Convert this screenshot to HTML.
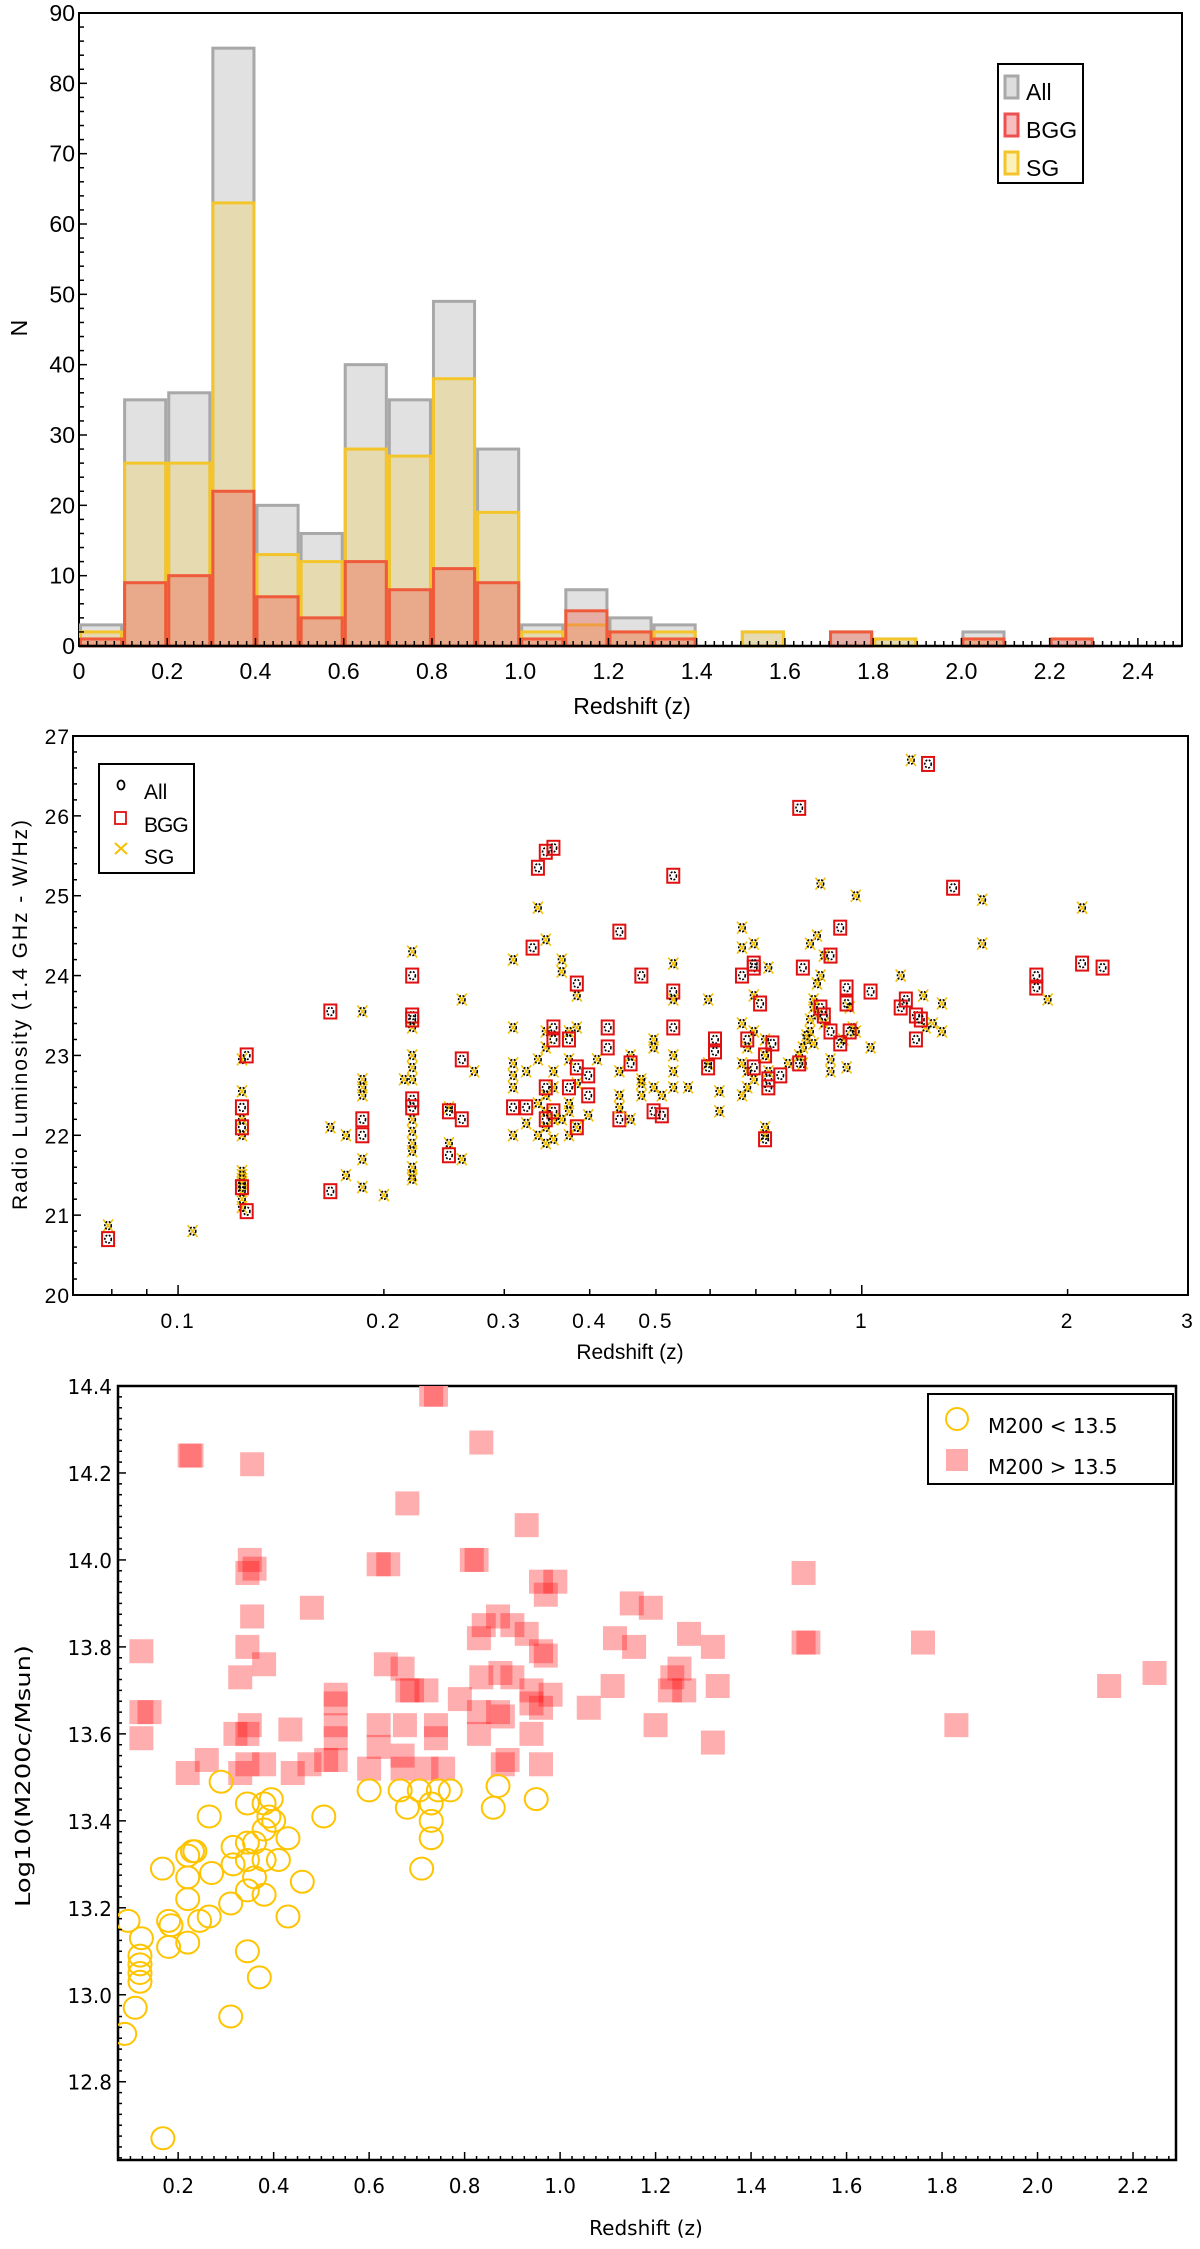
<!DOCTYPE html>
<html><head><meta charset="utf-8"><style>
html,body{margin:0;padding:0;background:#fff;}
svg{display:block;}
.t1{font-family:"Liberation Sans Narrow","Liberation Sans",sans-serif;font-size:23px;fill:#000;}
.t2{font-family:"Liberation Sans",sans-serif;font-size:21px;fill:#000;}
.t3{font-family:"DejaVu Sans",sans-serif;font-size:20px;fill:#000;}
</style></head><body>
<svg id="root" width="1200" height="2249" viewBox="0 0 1200 2249" xmlns="http://www.w3.org/2000/svg">
<g id="c1"></g>
<g id="c2"></g>
<g id="c3"></g>
</svg>
<script>
// ---------- Chart 1 data ----------
const binStarts = [0.0,0.1,0.2,0.3,0.4,0.5,0.6,0.7,0.8,0.9,1.0,1.1,1.2,1.3,1.4,1.5,1.6,1.7,1.8,1.9,2.0,2.1,2.2];
const countAll  = [3,35,36,85,20,16,40,35,49,28,3,8,4,3,0,2,0,2,1,0,2,0,1];
const countSG   = [2,26,26,63,13,12,28,27,38,19,2,3,2,2,0,2,0,0,1,0,1,0,0];
const countBGG  = [1,9,10,22,7,4,12,8,11,9,1,5,2,1,0,0,0,2,0,0,1,0,1];
const hxTicks = ["0","0.2","0.4","0.6","0.8","1.0","1.2","1.4","1.6","1.8","2.0","2.2","2.4"];
const hyTicks = [0,10,20,30,40,50,60,70,80,90];

// ---------- Chart 2 data ----------
const scZ = [0.079,0.079,0.105,
0.124,0.124,0.124,0.124,0.124,0.124,0.124,0.124,0.124,0.124,0.124,0.126,0.124,0.124,0.124,0.126,
0.167,0.167,0.167,0.176,0.176,0.186,0.186,0.186,0.186,0.186,0.186,0.186,0.186,0.2,0.214,
0.22,0.22,0.22,0.22,0.22,0.22,0.22,0.22,0.22,0.22,0.22,0.22,0.22,0.22,0.22,0.22,0.22,
0.249,0.249,0.249,0.249,0.26,0.26,0.26,0.26,0.271,
0.309,0.309,0.309,0.309,0.309,0.309,0.323,0.323,0.309,0.323,0.33,
0.336,0.345,0.345,0.345,0.336,0.354,0.345,0.336,0.345,0.354,0.336,0.345,0.354,0.345,0.354,0.336,0.345,0.354,0.354,0.354,0.345,0.354,0.345,
0.364,0.364,0.383,0.383,0.373,0.373,0.383,0.373,0.364,0.383,0.373,0.398,0.373,0.383,0.373,0.383,0.373,0.398,0.398,0.383,0.41,
0.425,0.425,0.442,0.442,0.442,0.442,0.442,
0.459,0.459,0.476,0.476,0.496,0.496,0.476,0.496,0.459,0.476,0.496,
0.51,0.53,0.53,0.53,0.53,0.53,0.53,0.53,0.51,0.53,0.557,
0.596,0.619,0.619,0.596,0.596,0.61,0.61,
0.668,0.668,0.695,0.695,0.668,0.695,0.68,0.668,0.68,0.695,0.668,0.68,0.722,0.722,0.722,0.73,0.722,0.73,
0.668,0.695,0.695,0.71,0.68,0.722,0.695,0.73,0.73,0.722,0.74,
0.78,0.76,
0.87,0.98,0.86,0.84,0.88,0.87,0.86,0.85,0.85,0.84,0.84,0.83,0.82,0.81,0.82,0.9,0.88,0.86,0.83,0.85,0.9,0.95,0.96,0.97,0.98,0.94,
0.81,0.82,0.9,0.93,0.95,0.87,0.88,0.9,0.93,0.81,0.95,0.96,
1.03,1.03,
1.18,1.14,1.23,1.27,1.24,1.25,1.14,1.16,1.2,1.22,1.2,1.36,
1.31,1.31,1.5,1.5,1.8,1.8,1.87,2.1,2.1,2.25];
const scL = [20.87,20.7,20.8,
22.95,22.55,22.2,22.0,21.55,21.5,21.45,21.4,21.3,21.2,21.1,23.0,22.35,22.1,21.35,21.05,
23.55,21.3,22.1,22.0,21.5,23.55,22.7,22.6,22.5,21.7,21.35,22.2,22.0,21.25,22.7,
24.3,23.35,23.0,22.85,22.7,22.2,22.05,21.9,21.8,21.6,21.5,21.45,24.0,23.5,23.45,22.45,22.35,
22.35,21.9,22.3,21.75,22.95,22.2,23.7,21.7,22.8,
24.2,23.35,22.9,22.75,22.6,22.0,22.15,22.8,22.35,22.35,24.35,
24.85,24.45,23.3,23.1,22.95,22.8,22.5,22.4,22.3,22.2,22.0,21.9,21.95,22.1,22.6,25.35,25.55,25.6,23.35,23.2,22.6,22.3,22.2,
24.2,24.05,23.75,23.35,23.3,22.95,22.65,22.3,22.2,22.1,22.0,22.25,22.4,23.9,23.2,22.85,22.6,22.5,22.75,22.1,22.95,
23.35,23.1,24.55,22.2,22.8,22.5,22.35,
23.0,22.2,22.65,22.5,23.1,23.2,22.7,22.6,22.9,24.0,22.3,
22.25,25.25,23.8,23.35,24.15,23.7,22.8,23.0,22.5,22.6,22.6,
23.7,22.55,22.3,22.9,22.85,23.2,23.05,
24.6,24.35,24.4,23.75,23.4,23.3,23.1,22.9,22.8,22.7,22.5,22.6,23.0,22.1,22.0,24.1,23.2,22.8,
24.0,24.1,24.15,23.65,23.2,23.0,22.85,22.7,22.6,21.95,23.15,
22.9,22.75,
25.15,25.0,24.5,24.4,24.25,24.0,23.9,23.7,23.6,23.45,23.3,23.2,23.1,23.0,22.9,22.8,23.4,23.5,23.25,23.15,22.95,22.85,23.6,23.35,23.3,23.2,
26.1,24.1,24.25,24.6,23.85,23.6,23.5,23.3,23.15,22.9,23.65,23.3,
23.8,23.1,
26.7,24.0,23.75,23.4,23.35,26.65,23.6,23.7,23.5,23.45,23.2,25.1,
23.65,23.3,24.95,24.4,24.0,23.85,23.7,24.85,24.15,24.1];
const scType = ["s","b","s",
"s","s","s","s","s","s","s","s","s","s","s","b","b","b","b","b",
"b","b","s","s","s","s","s","s","s","s","s","b","b","s","s",
"s","s","s","s","s","s","s","s","s","s","s","s","b","b","b","b","b",
"s","s","b","b","b","b","s","s","s",
"s","s","s","s","s","s","s","s","b","b","b",
"s","s","s","s","s","s","s","s","s","s","s","s","s","s","s","b","b","b","b","b","b","b","b",
"s","s","s","s","s","s","s","s","s","s","s","s","s","b","b","b","b","b","b","b","s",
"b","b","b","b","s","s","s",
"s","s","s","s","s","s","s","s","b","b","b",
"b","b","b","b","s","s","s","s","s","s","s",
"s","s","s","s","b","b","b",
"s","s","s","s","s","s","s","s","s","s","s","s","s","s","s","s","s","s",
"b","b","b","b","b","b","b","b","b","b","b",
"s","b",
"s","s","s","s","s","s","s","s","s","s","s","s","s","s","s","s","s","s","s","s","s","s","s","s","s","s",
"b","b","b","b","b","b","b","b","b","b","b","b",
"b","s",
"s","s","s","s","s","b","b","b","b","b","b","b",
"s","s","s","s","b","b","s","s","b","b"];
const lxTicks = [0.1,0.2,0.3,0.4,0.5,1,2,3];
const lxLabels = ["0.1","0.2","0.3","0.4","0.5","1","2","3"];
const lyTicks = [20,21,22,23,24,25,26,27];

// ---------- Chart 3 data ----------
const hiZ = [0.73,0.74,0.835,0.224,0.228,0.355,0.68,0.93,0.35,0.345,0.36,0.64,0.62,0.825,0.815,1.51,0.96,0.99,0.97,0.48,0.355,1.15,1.19,
0.84,0.87,0.9,0.93,0.83,0.123,0.345,1.115,1.155,1.27,1.32,1.52,1.51,1.76,0.96,0.97,0.38,0.33,0.635,0.67,0.875,0.9,0.835,1.235,1.25,1.23,
1.33,1.11,0.69,0.68,0.72,2.15,2.245,0.53,0.53,0.94,0.98,0.96,0.94,0.79,1.26,0.123,0.14,1.06,0.83,0.87,0.88,0.35,0.345,0.32,0.435,0.53,0.53,
0.62,0.675,0.74,0.123,1.2,1.83,1.32,0.83,0.94,0.62,0.67,0.74,0.26,0.22,0.345,0.38,0.33,0.44,0.475,0.51,0.53,0.6,0.67,0.72,0.755,0.89,0.88,0.96];
const hiM = [14.38,14.38,14.27,14.24,14.24,14.22,14.13,14.08,14.0,13.97,13.98,13.99,13.99,14.0,14.0,13.97,13.95,13.95,13.92,13.89,13.87,13.9,13.89,
13.85,13.87,13.85,13.83,13.82,13.79,13.8,13.82,13.8,13.83,13.8,13.81,13.81,13.81,13.79,13.78,13.76,13.73,13.76,13.75,13.74,13.73,13.73,13.73,13.75,13.7,
13.71,13.71,13.7,13.7,13.7,13.71,13.74,13.69,13.67,13.7,13.69,13.66,13.67,13.68,13.7,13.65,13.65,13.66,13.65,13.65,13.64,13.62,13.6,13.6,13.61,13.62,13.59,
13.62,13.62,13.62,13.59,13.62,13.62,13.58,13.6,13.6,13.57,13.55,13.59,13.54,13.51,13.53,13.53,13.51,13.51,13.53,13.54,13.54,13.52,13.52,13.52,13.52,13.54,13.53,13.53];
const loZ = [0.29,0.345,0.38,0.395,0.6,0.665,0.705,0.73,0.745,0.77,0.68,0.87,0.86,0.95,0.265,0.505,0.39,0.40,0.38,0.73,0.73,0.43,0.23,0.22,0.235,
0.315,0.345,0.36,0.71,0.167,0.27,0.315,0.345,0.38,0.41,0.36,0.46,0.22,0.345,0.38,0.22,0.31,0.265,0.245,0.43,0.18,0.185,0.095,0.22,0.123,0.18,0.345,
0.12,0.12,0.12,0.12,0.37,0.11,0.31,0.088,0.168];
const loM = [13.49,13.44,13.44,13.45,13.47,13.47,13.47,13.44,13.47,13.47,13.43,13.48,13.43,13.45,13.41,13.41,13.41,13.4,13.38,13.4,13.36,13.36,13.33,13.32,13.33,
13.34,13.35,13.35,13.29,13.29,13.28,13.3,13.31,13.31,13.31,13.27,13.26,13.27,13.24,13.23,13.22,13.21,13.18,13.17,13.18,13.17,13.16,13.17,13.12,13.13,13.11,13.1,
13.09,13.07,13.05,13.03,13.04,12.97,12.95,12.91,12.67];
const mxTicks = ["0.2","0.4","0.6","0.8","1.0","1.2","1.4","1.6","1.8","2.0","2.2"];
const myTicks = ["12.8","13.0","13.2","13.4","13.6","13.8","14.0","14.2","14.4"];

const NS = "http://www.w3.org/2000/svg";
function mk(parent, tag, attrs, text) {
  const e = document.createElementNS(NS, tag);
  for (const k in attrs) e.setAttribute(k, attrs[k]);
  if (text !== undefined) e.textContent = text;
  parent.appendChild(e);
  return e;
}

// ================= Chart 1 =================
(function(){
  const g = document.getElementById('c1');
  const L=79,R=1182,T=13,B=646;
  const x = v => L + (v/2.5)*(R-L);
  const y = v => B - (v/90)*(B-T);
  const frame = mk(g,'rect',{x:L,y:T,width:R-L,height:B-T,fill:'#fff',stroke:'#000','stroke-width':2});
  
  
  const series = [
    {d:countAll, fill:'rgba(200,200,200,0.55)', stroke:'#a8a8a8', name:'bar-all'},
    {d:countSG, fill:'rgba(240,205,90,0.35)', stroke:'#f4c52a', name:'bar-sg'},
    {d:countBGG, fill:'rgba(235,110,90,0.45)', stroke:'#ee5a3a', name:'bar-bgg'}
  ];
  series.forEach(s=>{
    binStarts.forEach((b,i)=>{
      if (s.d[i] <= 0) return;
      const r = mk(g,'rect',{x:x(b)+1.5,y:y(s.d[i]),width:x(b+0.1)-x(b)-3,height:B-y(s.d[i]),fill:s.fill,stroke:s.stroke,'stroke-width':3});
      
      
    });
  });
  // ticks
  for (let v=0; v<=2.5001; v+=0.02) {
    const major = Math.abs(v/0.2 - Math.round(v/0.2))<1e-6;
    mk(g,'line',{x1:x(v),x2:x(v),y1:B,y2:B-(major?8:5),stroke:'#000','stroke-width':1.5});
  }
  for (let v=0; v<=90; v+=2) {
    const major = v%10===0;
    mk(g,'line',{x1:L,x2:L+(major?8:5),y1:y(v),y2:y(v),stroke:'#000','stroke-width':1.5});
  }
  mk(g,'line',{x1:L,x2:R,y1:B,y2:B,stroke:'#000','stroke-width':2.5});
  hxTicks.forEach((t,i)=>{
    const e = mk(g,'text',{x:x(i*0.2),y:679,'text-anchor':'middle',class:'t1'},t);
    
    
  });
  hyTicks.forEach(v=>{
    const e = mk(g,'text',{x:L-4,y:y(v)+8,'text-anchor':'end',class:'t1'},String(v));
    
    
  });
  const xt = mk(g,'text',{x:632,y:714,'text-anchor':'middle',class:'t1'},'Redshift (z)');
  
  
  const yt = mk(g,'text',{x:0,y:0,'text-anchor':'middle',class:'t1',transform:'translate(27,328) rotate(-90)'},'N');
  
  
  const lg = mk(g,'g',{});
  
  
  mk(lg,'rect',{x:998,y:64,width:85,height:119,fill:'#fff',stroke:'#000','stroke-width':2});
  const li = [['All','rgba(200,200,200,0.6)','#a8a8a8'],['BGG','rgba(235,110,110,0.45)','#ee5050'],['SG','rgba(250,225,120,0.5)','#f4c52a']];
  li.forEach((it,i)=>{
    const e = mk(lg,'g',{});
    
    
    mk(e,'rect',{x:1005,y:76+i*38,width:13,height:22,fill:it[1],stroke:it[2],'stroke-width':3});
    mk(e,'text',{x:1026,y:100+i*38,class:'t1'},it[0]);
  });
})();

// ================= Chart 2 =================
(function(){
  const g = document.getElementById('c2');
  const L=73,R=1188,T=736,B=1295;
  const lmin=Math.log10(0.0702), lmax=Math.log10(3);
  const x = v => L + (Math.log10(v)-lmin)/(lmax-lmin)*(R-L);
  const y = v => B - (v-20)/7*(B-T);
  const frame = mk(g,'rect',{x:L,y:T,width:R-L,height:B-T,fill:'#fff',stroke:'#000','stroke-width':2});
  
  
  for (let v=20; v<=27.001; v+=0.2) {
    const major = Math.abs(v-Math.round(v))<1e-6;
    mk(g,'line',{x1:L,x2:L+(major?8:4),y1:y(v),y2:y(v),stroke:'#000','stroke-width':1.5});
  }
  const minors=[0.08,0.09,0.2,0.3,0.4,0.5,0.6,0.7,0.8,0.9,2,3];
  minors.forEach(v=>mk(g,'line',{x1:x(v),x2:x(v),y1:B,y2:B-6,stroke:'#000','stroke-width':1.5}));
  [0.1,1].forEach(v=>mk(g,'line',{x1:x(v),x2:x(v),y1:B,y2:B-10,stroke:'#000','stroke-width':1.5}));
  lxTicks.forEach((v,i)=>{
    const e = mk(g,'text',{x:x(v),y:1328,'text-anchor':'middle',class:'t2','letter-spacing':'2'},lxLabels[i]);
    
    
  });
  lyTicks.forEach(v=>{
    const e = mk(g,'text',{x:L-3,y:y(v)+8,'text-anchor':'end',class:'t2','letter-spacing':'1'},String(v));
    
    
  });
  // points
  scZ.forEach((z,i)=>{
    const px=x(z), py=y(scL[i]);
    const p = mk(g,'g',{});
    
    
    if (scType[i]==='b') {
      mk(p,'rect',{x:px-6,y:py-7,width:12,height:14,fill:'none',stroke:'#e01010','stroke-width':2});
    } else {
      mk(p,'path',{d:`M${px-5},${py-6}L${px+5},${py+6}M${px+5},${py-6}L${px-5},${py+6}`,stroke:'#f4c000','stroke-width':1.6});
    }
    mk(p,'ellipse',{cx:px,cy:py,rx:3.2,ry:4,fill:'none',stroke:'#000','stroke-width':1.6,'stroke-dasharray':'2 1.5'});
  });
  const xt = mk(g,'text',{x:630,y:1359,'text-anchor':'middle',class:'t2'},'Redshift (z)');
  
  
  const yt = mk(g,'text',{x:0,y:0,'text-anchor':'middle',class:'t2',textLength:390,lengthAdjust:'spacing',transform:'translate(27,1015) rotate(-90)'},'Radio Luminosity (1.4 GHz - W/Hz)');
  
  
  const lg = mk(g,'g',{});
  
  
  mk(lg,'rect',{x:99,y:764,width:95,height:109,fill:'#fff',stroke:'#000','stroke-width':2});
  mk(lg,'ellipse',{cx:121,cy:785,rx:3.5,ry:4.5,fill:'none',stroke:'#000','stroke-width':1.8});
  mk(lg,'text',{x:144,y:799,class:'t2'},'All');
  mk(lg,'rect',{x:115,y:812,width:11,height:12,fill:'none',stroke:'#e01010','stroke-width':1.8});
  mk(lg,'text',{x:144,y:832,class:'t2','letter-spacing':'-1'},'BGG');
  mk(lg,'path',{d:'M115,843L127,854M127,843L115,854',stroke:'#f4c000','stroke-width':2});
  mk(lg,'text',{x:144,y:864,class:'t2'},'SG');
})();

// ================= Chart 3 =================
(function(){
  const g = document.getElementById('c3');
  const L=118,R=1176,T=1386,B=2160;
  const x0=0.074, x1=2.29, y0=12.62, y1=14.4;
  const x = v => L + (v-x0)/(x1-x0)*(R-L);
  const y = v => B - (v-y0)/(y1-y0)*(B-T);
  const frame = mk(g,'rect',{x:L,y:T,width:R-L,height:B-T,fill:'#fff',stroke:'#000','stroke-width':2.5});
  
  
  const clip = mk(g,'clipPath',{id:'clip3'});
  mk(clip,'rect',{x:L,y:T,width:R-L,height:B-T});
  const marks = mk(g,'g',{'clip-path':'url(#clip3)'});
  hiZ.forEach((z,i)=>{
    const r = mk(marks,'rect',{x:x(z)-12,y:y(hiM[i])-12,width:24,height:24,fill:'#ffaaab',style:'mix-blend-mode:multiply',opacity:0.95});
    
    
  });
  loZ.forEach((z,i)=>{
    const c = mk(marks,'ellipse',{cx:x(z),cy:y(loM[i]),rx:11.5,ry:11,fill:'none',stroke:'#ffc400','stroke-width':2});
    
    
  });
  for (let v=0.1; v<=2.29; v+=0.025) {
    const major = Math.abs(v/0.2-Math.round(v/0.2))<1e-6;
    mk(g,'line',{x1:x(v),x2:x(v),y1:B,y2:B-(major?8:4),stroke:'#000','stroke-width':1.5});
  }
  for (let v=12.625; v<=14.4; v+=0.025) {
    const major = Math.abs(v/0.2-Math.round(v/0.2))<1e-6;
    mk(g,'line',{x1:L,x2:L+(major?8:4),y1:y(v),y2:y(v),stroke:'#000','stroke-width':1.5});
  }
  mxTicks.forEach(t=>{
    const e = mk(g,'text',{x:x(parseFloat(t)),y:2193,'text-anchor':'middle',class:'t3'},t);
    
    
  });
  myTicks.forEach(t=>{
    const e = mk(g,'text',{x:L-6,y:y(parseFloat(t))+8,'text-anchor':'end',class:'t3'},t);
    
    
  });
  const xt = mk(g,'text',{x:646,y:2235,'text-anchor':'middle',class:'t3'},'Redshift (z)');
  
  
  const yt = mk(g,'text',{x:0,y:0,'text-anchor':'middle',class:'t3',textLength:262,lengthAdjust:'spacingAndGlyphs',transform:'translate(30,1776) rotate(-90)'},'Log10(M200c/Msun)');
  
  
  const lg = mk(g,'g',{});
  
  
  mk(lg,'rect',{x:928,y:1394,width:245,height:90,fill:'#fff',stroke:'#000','stroke-width':2});
  mk(lg,'ellipse',{cx:957,cy:1419,rx:11,ry:11,fill:'none',stroke:'#ffc400','stroke-width':2});
  mk(lg,'text',{x:988,y:1433,class:'t3'},'M200 < 13.5');
  mk(lg,'rect',{x:946,y:1449,width:22,height:22,fill:'#ffaaab'});
  mk(lg,'text',{x:988,y:1474,class:'t3'},'M200 > 13.5');
})();
</script>
</body></html>
